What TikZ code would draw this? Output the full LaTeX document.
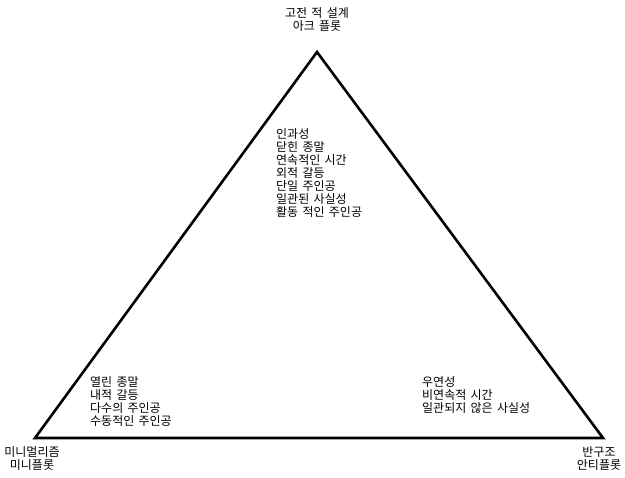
\documentclass[tikz,border=0pt]{standalone}
\usepackage{fontspec}
\setmainfont{Noto Sans CJK KR}[WordSpace=1.6]
\begin{document}
\begin{tikzpicture}[x=1pt,y=-1pt,
  lbl/.style={font=\fontsize{12}{13}\selectfont, align=center, inner sep=0pt},
  blk/.style={font=\fontsize{12}{13}\selectfont, align=left, inner sep=0pt, anchor=north west}]
\useasboundingbox (0,0) rectangle (625,478);
\coordinate (T) at (317,52);
\coordinate (L) at (35,438);
\coordinate (R) at (603,438);
\draw[line width=2.6pt, line join=miter] (T) -- (R) -- (L) -- cycle;
\node[lbl] (top) at (317,20) {고전 적 설계\\아크 플롯};
\node[lbl] (bl) at (32,459) {미니멀리즘\\미니플롯};
\node[lbl] (br) at (599,459) {반구조\\안티플롯};
\node[blk] (mid) at (276,128) {인과성\\닫힌 종말\\연속적인 시간\\외적 갈등\\단일 주인공\\일관된 사실성\\활동 적인 주인공};
\node[blk] (left) at (90,376) {열린 종말\\내적 갈등\\다수의 주인공\\수동적인 주인공};
\node[blk] (right) at (422,376) {우연성\\비연속적 시간\\일관되지 않은 사실성};
\end{tikzpicture}
\end{document}
